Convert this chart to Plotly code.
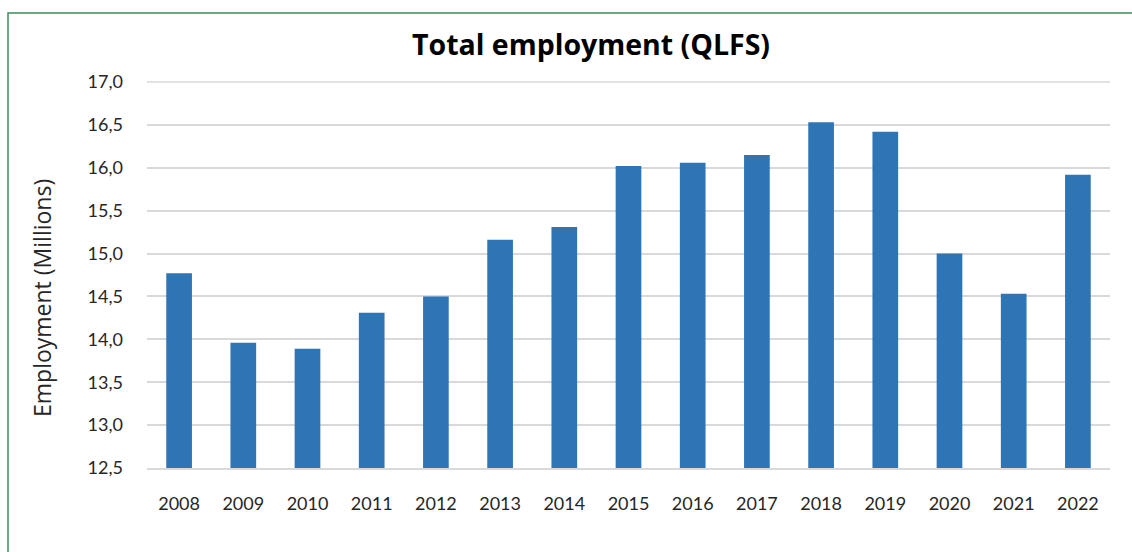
import plotly.graph_objects as go

# Total employment by year, millions (QLFS)
years = ["2008", "2009", "2010", "2011", "2012", "2013", "2014", "2015",
         "2016", "2017", "2018", "2019", "2020", "2021", "2022"]
employment = [14.77, 13.96, 13.89, 14.31, 14.50, 15.16, 15.31, 16.02,
              16.06, 16.15, 16.53, 16.42, 15.00, 14.53, 15.92]
y_ticks = [12.5, 13.0, 13.5, 14.0, 14.5, 15.0, 15.5, 16.0, 16.5, 17.0]

W, H = 1132, 552
L, R, T, B = 147, 1110, 82, 468  # plot area in pixels


def px_x(x):
    return (x - L) / (R - L)


def px_y(y):
    return (B - y) / (B - T)


fig = go.Figure(
    go.Bar(
        x=years,
        y=employment,
        width=0.4,
        marker=dict(color="#2e75b6", line=dict(width=0)),
        hoverinfo="x+y",
    )
)

fig.update_layout(
    width=W,
    height=H,
    margin=dict(l=L, r=W - R, t=T, b=H - B),
    paper_bgcolor="white",
    plot_bgcolor="white",
    separators=", ",
    showlegend=False,
    font=dict(family="Lato", color="#262626"),
    xaxis=dict(
        showgrid=False,
        showline=True,
        linecolor="#d9d9d9",
        linewidth=1.5,
        tickfont=dict(size=18, color="#262626"),
        ticks="",
        ticklabelstandoff=19,
    ),
    yaxis=dict(
        range=[12.5, 17.0],
        tickvals=y_ticks,
        tickformat=".1f",
        showgrid=True,
        gridcolor="#d9d9d9",
        gridwidth=1.5,
        zeroline=False,
        tickfont=dict(size=18, color="#262626"),
        ticks="",
        ticklabelstandoff=23,
    ),
    shapes=[
        dict(
            type="rect", xref="paper", yref="paper",
            x0=px_x(8), x1=px_x(1145), y0=px_y(13), y1=px_y(570),
            line=dict(color="#3d8a5f", width=1.5),
            fillcolor="rgba(0,0,0,0)", layer="below",
        ),
        dict(
            type="line", xref="paper", yref="paper",
            x0=0, x1=1, y0=1, y1=1,
            line=dict(color="#d9d9d9", width=1.5), layer="below",
        ),
    ],
    annotations=[
        dict(
            text="<b>Total employment (QLFS)</b>",
            xref="paper", yref="paper",
            x=px_x(591), y=px_y(44),
            xanchor="center", yanchor="middle",
            showarrow=False,
            font=dict(size=28.5, color="#000000", family="Open Sans"),
        ),
        dict(
            text="Employment (Millions)",
            xref="paper", yref="paper",
            x=px_x(42), y=px_y(298),
            xanchor="center", yanchor="middle",
            textangle=-90,
            showarrow=False,
            font=dict(size=23, color="#262626", family="Open Sans"),
        ),
    ],
)

fig.write_html("out.html")
